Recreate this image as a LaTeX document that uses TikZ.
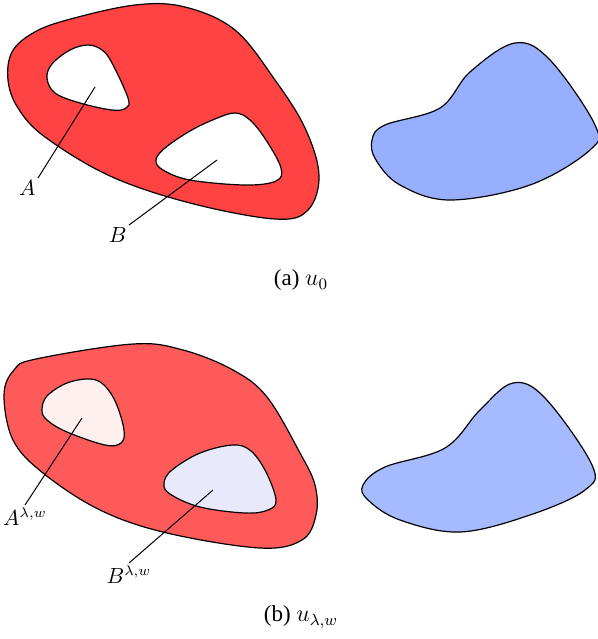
\documentclass[tikz,border=0pt]{standalone}
\usepackage{amsmath,amssymb}
\usepackage{fontspec}
\setmainfont{Liberation Serif}
\usetikzlibrary{positioning}

\definecolor{domred}{RGB}{255,66,66}
\definecolor{domredlam}{RGB}{255,90,90}
\definecolor{domblue}{RGB}{152,175,255}
\definecolor{dombluelam}{RGB}{166,187,255}
\definecolor{holepink}{RGB}{253,240,239}
\definecolor{holeblue}{RGB}{232,234,251}

\begin{document}
\begin{tikzpicture}[
    x=0.5pt, y=-0.5pt,
    font=\fontsize{10.5}{12}\selectfont,
    region/.style={
        draw=black,
        line width=0.6pt
    },
    leader/.style={
        draw=black,
        line width=0.5pt
    },
    label/.style={
        inner sep=1pt
    },
    caption/.style={
        inner sep=0pt,
        font=\fontsize{11.5}{13}\selectfont
    }
]

% ---------------------------------------------------------
% Canvas
% ---------------------------------------------------------
\path[use as bounding box] (0,0) rectangle (598,639);

% ---------------------------------------------------------
% (a) u_0
% ---------------------------------------------------------
\draw[region, fill=domred] plot[smooth cycle, tension=0.6] coordinates {
    (8,80) (12,52) (33,33) (67,20) (135,5) (185,7) (235,30) (275,80)
    (305,128) (319,175) (308,210) (275,219) (190,203) (110,176)
    (45,137) (18,108)};

\draw[region, fill=white] plot[smooth cycle, tension=0.6] coordinates {
    (47,78) (52,64) (70,50) (88,45) (102,50) (112,63) (128,98)
    (126,108) (112,110) (80,103) (55,93)};

\draw[region, fill=white] plot[smooth cycle, tension=0.6] coordinates {
    (156,160) (165,148) (190,131) (215,119) (235,113) (250,120)
    (266,140) (281,168) (276,181) (245,185) (190,180) (163,170)};

\draw[region, fill=domblue] plot[smooth cycle, tension=0.6] coordinates {
    (372,140) (385,125) (440,108) (470,72) (515,43) (550,60) (595,125)
    (590,150) (530,185) (450,200) (400,185) (376,160)};

\coordinate (pA) at (95,87);
\coordinate (pB) at (217,160);
\node[label, anchor=north east] (labA) at (38,178) {$A$};
\node[label, anchor=north east] (labB) at (129,225) {$B$};
\draw[leader] (pA) -- (labA.north east);
\draw[leader] (pB) -- (labB.north east);

\node[caption] (capa) at (301,280) {(a) $u_0$};

% ---------------------------------------------------------
% (b) u_{lambda,w}
% ---------------------------------------------------------
\draw[region, fill=domredlam] plot[smooth cycle, tension=0.6] coordinates {
    (4,395) (14,370) (36,359) (133,344) (183,350) (233,370) (267,397)
    (300,453) (315,485) (316,515) (302,540) (260,548)
    (167,533) (100,510) (43,473) (13,440)};

\draw[region, fill=holepink] plot[smooth cycle, tension=0.6] coordinates {
    (42,410) (47,396) (67,383) (90,379) (104,385) (116,403) (124,430)
    (121,443) (105,445) (67,432) (47,420)};

\draw[region, fill=holeblue] plot[smooth cycle, tension=0.6] coordinates {
    (164,483) (172,470) (200,453) (233,445) (251,451) (266,472)
    (276,500) (268,510) (245,513) (200,507) (170,494)};

\draw[region, fill=dombluelam] plot[smooth cycle, tension=0.6] coordinates {
    (363,485) (385,467) (445,448) (480,410) (513,383) (545,398) (592,465)
    (585,490) (530,515) (460,532) (400,520) (368,500)};

\coordinate (pAl) at (82,418);
\coordinate (pBl) at (213,490);
\node[label, anchor=north] (labAl) at (25,505) {$A^{\lambda,w}$};
\node[label, anchor=north] (labBl) at (129,563) {$B^{\lambda,w}$};
\draw[leader] (pAl) -- (labAl.north);
\draw[leader] (pBl) -- (labBl.north);

\node[caption] (capb) at (301,617) {(b) $u_{\lambda,w}$};

\end{tikzpicture}
\end{document}
